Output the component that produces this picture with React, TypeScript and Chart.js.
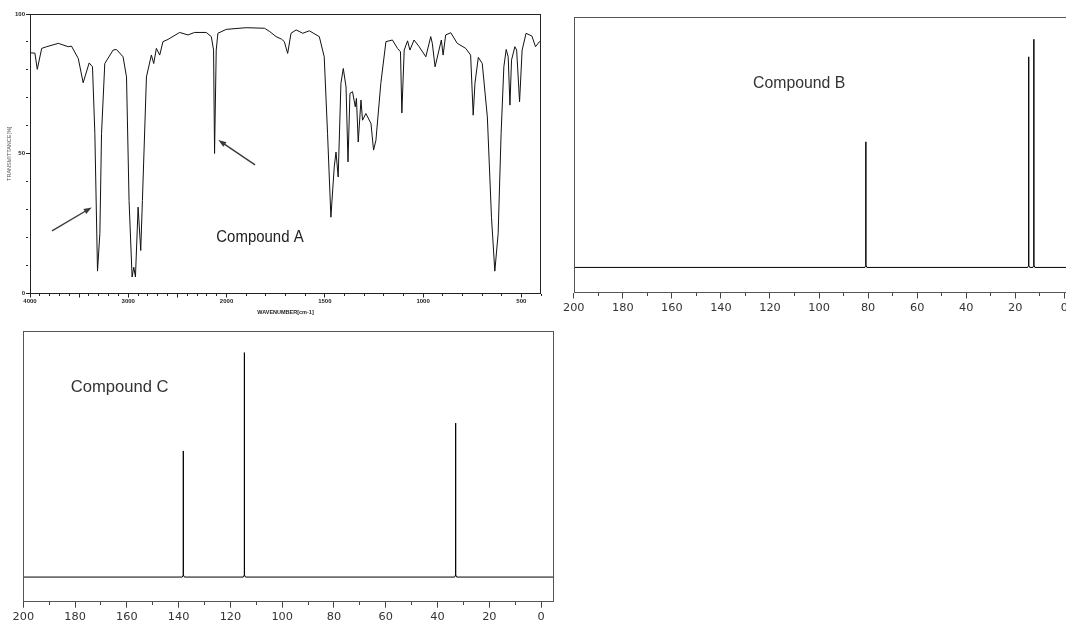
import React, { useEffect, useRef } from 'react';
import { Chart, registerables } from 'chart.js';
Chart.register(...registerables);

// ---------- Compound A : IR spectrum ----------
const IR_WAVENUMBER = [4000, 3950, 3926, 3881, 3830, 3712, 3611, 3578, 3509, 3459, 3398, 3364, 3340, 3313, 3289, 3272, 3239, 3154, 3120, 3053, 3018, 2992, 2961, 2944, 2927, 2900, 2873, 2856, 2815, 2765, 2741, 2714, 2680, 2647, 2596, 2477, 2393, 2325, 2206, 2155, 2132, 2122, 2105, 2088, 2003, 1900, 1807, 1780, 1748, 1720, 1706, 1689, 1672, 1646, 1612, 1579, 1528, 1503, 1486, 1469, 1452, 1443, 1432, 1418, 1406, 1392, 1382, 1372, 1359, 1345, 1339, 1330, 1316, 1308, 1291, 1265, 1252, 1240, 1215, 1189, 1156, 1130, 1115, 1108, 1096, 1079, 1067, 1046, 1020, 986, 961, 953, 939, 919, 907, 898, 885, 859, 826, 783, 758, 745, 736, 719, 699, 673, 652, 635, 618, 603, 589, 577, 567, 558, 550, 533, 524, 509, 496, 476, 446, 428, 408, 400];
const IR_TRANSMITTANCE = [86.1, 86.0, 80.2, 87.7, 88.3, 89.5, 88.3, 88.5, 84.1, 75.4, 82.5, 81.1, 57.3, 8.0, 21.5, 57.3, 82.3, 87.1, 87.3, 84.7, 77.5, 33.3, 5.9, 9.4, 5.9, 30.9, 15.4, 33.3, 77.5, 85.3, 82.3, 87.7, 85.3, 90.1, 90.9, 93.4, 92.5, 93.4, 93.4, 91.9, 87.1, 50.1, 87.1, 93.1, 94.5, 95.1, 94.9, 93.7, 91.9, 91.0, 90.1, 85.9, 93.1, 94.3, 93.1, 94.0, 91.9, 84.7, 57.2, 27.3, 45.3, 50.6, 41.7, 75.2, 80.5, 73.9, 47.1, 71.6, 72.2, 66.8, 69.8, 54.2, 69.2, 62.0, 64.4, 60.8, 51.3, 54.8, 75.2, 90.1, 90.7, 87.7, 86.5, 64.6, 87.1, 90.4, 87.1, 90.7, 88.3, 84.7, 91.9, 89.5, 81.1, 87.1, 90.7, 85.3, 92.5, 93.3, 89.5, 87.7, 85.3, 63.8, 75.2, 84.5, 82.3, 63.2, 27.3, 8.0, 21.4, 57.2, 81.1, 87.3, 84.7, 67.4, 83.5, 88.3, 87.1, 68.6, 87.1, 93.1, 92.1, 88.3, 90.1, 90.0];
const IR_X_TICKS = [4000, 3900, 3800, 3700, 3600, 3500, 3400, 3300, 3200, 3100, 3000, 2900, 2800, 2700, 2600, 2500, 2400, 2300, 2200, 2100, 2000, 1900, 1800, 1700, 1600, 1500, 1400, 1300, 1200, 1100, 1000, 900, 800, 700, 600, 500, 400];
const IR_X_LABELS = [4000, 3000, 2000, 1500, 1000, 500];
const IR_Y_TICKS = [0, 10, 20, 30, 40, 50, 60, 70, 80, 90, 100];
const IR_Y_LABELS = [0, 50, 100];

// ---------- Compound B : 13C NMR ----------
const B_SHIFT = [80.9, 14.5, 12.4];
const B_INTENSITY = [50.1, 84.0, 91.0];

// ---------- Compound C : 13C NMR ----------
const C_SHIFT = [138.2, 114.6, 33.0];
const C_INTENSITY = [51.2, 91.1, 62.5];

const NMR_TICKS = [200, 190, 180, 170, 160, 150, 140, 130, 120, 110, 100, 90, 80, 70, 60, 50, 40, 30, 20, 10, 0];
const NMR_LABELS = [200, 180, 160, 140, 120, 100, 80, 60, 40, 20, 0];

// piecewise wavenumber axis (scale doubles below 2000 cm-1)
const irPos = (wn: number) => (wn >= 2000 ? 4000 - wn : 2000 + 2 * (2000 - wn));
const irWn = (u: number) => Math.round(u <= 2000 ? 4000 - u : 2000 - (u - 2000) / 2);

function framePlugin(color: string) {
  return {
    id: 'frame',
    afterDraw(chart: any) {
      const { ctx, chartArea: a } = chart;
      ctx.save();
      ctx.strokeStyle = color;
      ctx.lineWidth = 1;
      const l = Math.round(a.left) + 0.5;
      const t = Math.round(a.top) + 0.5;
      const r = Math.round(a.right) - 0.5;
      const b = Math.round(a.bottom) - 0.5;
      ctx.strokeRect(l, t, r - l, b - t);
      ctx.restore();
    },
  };
}

type Note = { text: string; x: number; y: number; font: string; sx: number; color: string };
type Arrow = { x0: number; y0: number; x1: number; y1: number };

function notesPlugin(notes: Note[], arrows: Arrow[]) {
  return {
    id: 'notes',
    afterDatasetsDraw(chart: any) {
      const { ctx, scales } = chart;
      const xs = scales.x, ys = scales.y;
      for (const n of notes) {
        ctx.save();
        ctx.font = n.font;
        ctx.fillStyle = n.color;
        ctx.textAlign = 'center';
        ctx.textBaseline = 'alphabetic';
        ctx.translate(xs.getPixelForValue(n.x), ys.getPixelForValue(n.y));
        ctx.scale(n.sx, 1);
        ctx.fillText(n.text, 0, 0);
        ctx.restore();
      }
      for (const a of arrows) {
        const px0 = xs.getPixelForValue(a.x0), py0 = ys.getPixelForValue(a.y0);
        const px1 = xs.getPixelForValue(a.x1), py1 = ys.getPixelForValue(a.y1);
        const ang = Math.atan2(py1 - py0, px1 - px0);
        const len = 8, hw = 2.8;
        ctx.save();
        ctx.strokeStyle = '#3a3a3a';
        ctx.fillStyle = '#3a3a3a';
        ctx.lineWidth = 1.4;
        ctx.beginPath();
        ctx.moveTo(px0, py0);
        ctx.lineTo(px1 - Math.cos(ang) * len * 0.7, py1 - Math.sin(ang) * len * 0.7);
        ctx.stroke();
        ctx.beginPath();
        ctx.moveTo(px1, py1);
        ctx.lineTo(px1 - Math.cos(ang) * len - Math.sin(ang) * hw, py1 - Math.sin(ang) * len + Math.cos(ang) * hw);
        ctx.lineTo(px1 - Math.cos(ang) * len + Math.sin(ang) * hw, py1 - Math.sin(ang) * len - Math.cos(ang) * hw);
        ctx.closePath();
        ctx.fill();
        ctx.restore();
      }
    },
  };
}

function irConfig(): any {
  const data = IR_WAVENUMBER.map((w, i) => ({ x: irPos(w), y: IR_TRANSMITTANCE[i] }));
  const tickFont = { family: 'Liberation Sans', size: 6, weight: 'bold' as const };
  return {
    type: 'line',
    data: { datasets: [{ data, borderColor: '#111', borderWidth: 1, pointRadius: 0, tension: 0, fill: false }] },
    options: {
      responsive: false,
      animation: false,
      events: [],
      layout: { padding: { left: 0, top: 14, right: 19, bottom: 0 } },
      plugins: { legend: { display: false }, tooltip: { enabled: false } },
      scales: {
        x: {
          type: 'linear',
          min: 0,
          max: irPos(400),
          afterBuildTicks: (s: any) => { s.ticks = IR_X_TICKS.map((w) => ({ value: irPos(w) })); },
          afterFit: (s: any) => { s.height = 26.5; },
          ticks: {
            autoSkip: false, maxRotation: 0, minRotation: 0, padding: 0, color: '#222', font: tickFont,
            callback: (v: number) => (IR_X_LABELS.includes(irWn(v)) ? String(irWn(v)) : ''),
          },
          grid: {
            drawOnChartArea: false, drawTicks: true, tickLength: 4, tickColor: '#222', tickWidth: 1,
            tickBorderDash: (c: any) => (irWn(c.tick.value) % 500 === 0 ? [] : [2, 20]),
          },
          border: { display: false },
          title: { display: true, text: 'WAVENUMBER[cm-1]', color: '#222', font: { family: 'Liberation Sans', size: 5.5, weight: 'bold' }, padding: { top: 4, bottom: 4 } },
        },
        y: {
          min: 0,
          max: 100,
          afterBuildTicks: (s: any) => { s.ticks = IR_Y_TICKS.map((v) => ({ value: v })); },
          afterFit: (s: any) => { s.width = 30; },
          ticks: {
            autoSkip: false, padding: 1, color: '#222', font: tickFont,
            callback: (v: number) => (IR_Y_LABELS.includes(v) ? String(v) : ''),
          },
          grid: {
            drawOnChartArea: false, drawTicks: true, tickLength: 4, tickColor: '#222', tickWidth: 1,
            tickBorderDash: (c: any) => (c.tick.value % 50 === 0 ? [] : [2, 20]),
          },
          border: { display: false },
          title: { display: true, text: 'TRANSMITTANCE[%]', color: '#555', font: { family: 'Liberation Sans', size: 5.5 }, padding: { top: 6, bottom: 0 } },
        },
      },
    },
    plugins: [
      framePlugin('#222'),
      notesPlugin(
        [{ text: 'Compound A', x: irPos(1830), y: 18.3, font: '17px "Liberation Sans"', sx: 0.88, color: '#222' }],
        [
          { x0: irPos(3776), y0: 22.4, x1: irPos(3372), y1: 30.8 },
          { x0: irPos(1855), y0: 46.0, x1: irPos(2084), y1: 54.9 },
        ]
      ),
    ],
  };
}

function nmrConfig(shift: number[], intensity: number[], xMin: number, padding: any, axisHeight: number, note: Note): any {
  const order = shift.map((_, i) => i).sort((a, b) => shift[b] - shift[a]);
  const data: { x: number; y: number }[] = [{ x: 200, y: 0 }];
  for (const i of order) {
    const p = shift[i], h = intensity[i];
    data.push({ x: p + 0.4, y: 0 }, { x: p, y: 0.9 }, { x: p, y: h }, { x: p, y: 0.9 }, { x: p - 0.4, y: 0 });
  }
  data.push({ x: xMin, y: 0 });
  return {
    type: 'line',
    data: { datasets: [{ data, borderColor: '#000', borderWidth: 1, pointRadius: 0, tension: 0, fill: false }] },
    options: {
      responsive: false,
      animation: false,
      events: [],
      layout: { padding },
      plugins: { legend: { display: false }, tooltip: { enabled: false } },
      scales: {
        x: {
          type: 'linear',
          reverse: true,
          min: xMin,
          max: 200,
          afterBuildTicks: (s: any) => { s.ticks = NMR_TICKS.map((v) => ({ value: v })); },
          afterFit: (s: any) => { s.height = axisHeight; },
          ticks: {
            autoSkip: false, maxRotation: 0, minRotation: 0, padding: 3, color: '#333',
            font: { family: 'DejaVu Sans', size: 11.3 },
            callback: (v: number) => (NMR_LABELS.includes(v) ? String(v) : ''),
          },
          grid: {
            drawOnChartArea: false, drawTicks: true, tickLength: 6, tickColor: '#444', tickWidth: 1,
            tickBorderDash: (c: any) => (c.tick.value % 20 === 0 ? [] : [3, 20]),
          },
          border: { display: false },
        },
        y: { display: false, min: -10, max: 100 },
      },
    },
    plugins: [framePlugin('#555'), notesPlugin([note], [])],
  };
}

export default function App() {
  const irRef = useRef<HTMLCanvasElement>(null);
  const bRef = useRef<HTMLCanvasElement>(null);
  const cRef = useRef<HTMLCanvasElement>(null);

  useEffect(() => {
    const charts = [
      new Chart(irRef.current!, irConfig()),
      new Chart(
        bRef.current!,
        nmrConfig(B_SHIFT, B_INTENSITY, -5.1, { left: 13.5, top: 16.7, right: 13.2, bottom: 0 }, 32.5,
          { text: 'Compound B', x: 108.1, y: 71.7, font: '15.8px "Liberation Sans"', sx: 1, color: '#333' })
      ),
      new Chart(
        cRef.current!,
        nmrConfig(C_SHIFT, C_INTENSITY, -5.1, { left: 23.3, top: 5.7, right: 15.7, bottom: 0 }, 27.3,
          { text: 'Compound C', x: 162.8, y: 75.0, font: '16.6px "Liberation Sans"', sx: 1, color: '#333' })
      ),
    ];
    return () => charts.forEach((c) => c.destroy());
  }, []);

  return (
    <div style={{ position: 'fixed', left: 0, top: 0, width: 1066, height: 629, overflow: 'hidden', background: '#fff' }}>
      <canvas ref={irRef} width={560} height={320} style={{ position: 'absolute', left: 0, top: 0 }} />
      <canvas ref={bRef} width={530} height={325} style={{ position: 'absolute', left: 560, top: 0 }} />
      <canvas ref={cRef} width={570} height={304} style={{ position: 'absolute', left: 0, top: 325 }} />
    </div>
  );
}
